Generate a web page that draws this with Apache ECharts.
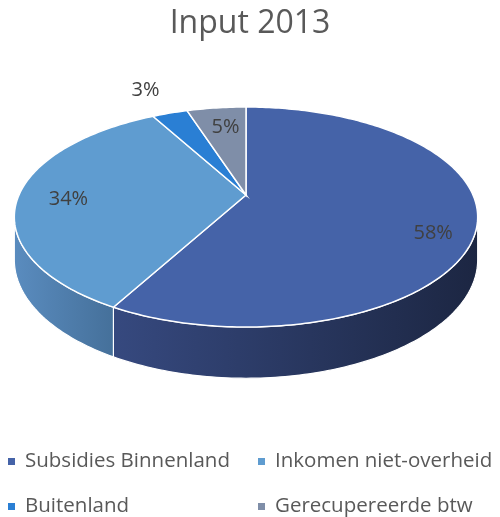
<!DOCTYPE html>
<html><head><meta charset="utf-8">
<script src="https://cdn.jsdelivr.net/npm/echarts@6/dist/echarts.min.js"></script>
<style>html,body{margin:0;padding:0;background:#fff}#c{width:500px;height:517px}</style>
</head><body><div id="c"></div>
<script>
const title = 'Input 2013';
const categories = ['Subsidies Binnenland', 'Inkomen niet-overheid', 'Buitenland', 'Gerecupereerde btw'];
const values = [58, 34, 3, 5];
const topColors = ['#4563a8', '#5f9cd0', '#2a7fd4', '#7f8ea8'];
const sideColors = [['#36497f', '#1c2642'], ['#5a8cbf', '#45709a'], ['#2270bd', '#1a5a99'], ['#707f98', '#5d6a80']];

const total = values.reduce((a, b) => a + b, 0);
const FONT = '"Open Sans", "Liberation Sans", sans-serif';

// pseudo-3D projection settings
const CX = 246, CY = 195, RX = 227, RY = 105.6, P = 0.2, DEPTH = 41;
function proj(theta, r, down) {
  const X = r * Math.sin(theta), Z = r * Math.cos(theta);
  const w = 1 + P * Z;
  return [CX + RX * X / w, CY + (-RY * Z + (down ? DEPTH : 0)) / w];
}
function arcPts(a0, a1, r, down) {
  const n = Math.max(2, Math.ceil(Math.abs(a1 - a0) / (Math.PI / 180)));
  const pts = [];
  for (let k = 0; k <= n; k++) pts.push(proj(a0 + (a1 - a0) * k / n, r, down));
  return pts;
}
const vis0 = Math.acos(-P), vis1 = 2 * Math.PI - Math.acos(-P);

function buildSlice(i) {
  let before = 0;
  for (let j = 0; j < i; j++) before += values[j];
  const a0 = before / total * 2 * Math.PI;
  const a1 = (before + values[i]) / total * 2 * Math.PI;
  const children = [];
  // side wall
  const s0 = Math.max(a0, vis0), s1 = Math.min(a1, vis1);
  if (s1 > s0) {
    const pts = arcPts(s0, s1, 1, false).concat(arcPts(s1, s0, 1, true));
    children.push({
      type: 'polygon', shape: { points: pts },
      style: {
        fill: { type: 'linear', x: 0, y: 0, x2: 1, y2: 0,
          colorStops: [{ offset: 0, color: sideColors[i][0] }, { offset: 1, color: sideColors[i][1] }] },
        stroke: '#ffffff', lineWidth: 1.2
      }
    });
  }
  // top face
  const topPts = [proj(0, 0, false)].concat(arcPts(a0, a1, 1, false));
  children.push({
    type: 'polygon', shape: { points: topPts },
    style: { fill: topColors[i], stroke: '#ffffff', lineWidth: 1.5 }
  });
  // label
  const pct = Math.round(values[i] / total * 100);
  const inside = pct >= 4;
  const mid = (a0 + a1) / 2;
  const lp = proj(mid, inside ? 0.8 : 1.35, false);
  const dy = inside ? Math.max(0, -Math.cos(mid)) * 50 : 0;
  children.push({
    type: 'text', x: lp[0] + (inside ? 4 : -3), y: lp[1] + dy + (inside ? 4 : 0), z2: 10,
    style: { text: pct + '%', fill: '#404040', font: '20px ' + FONT, align: 'center', verticalAlign: 'middle' }
  });
  return { type: 'group', children };
}

const legendText = { fontFamily: FONT, fontSize: 20.5, color: '#595959', lineHeight: 20, padding: [0, 0, 0, 5] };
const chart = echarts.init(document.getElementById('c'), null, { renderer: 'canvas' });
chart.setOption({
  animation: false,
  title: { text: title, left: 'center', top: 3,
    textStyle: { fontFamily: FONT, fontSize: 32, fontWeight: 'normal', color: '#595959' } },
  legend: [
    { data: [categories[0], categories[2]], orient: 'vertical', left: 8, top: 451, height: 66,
      icon: 'rect', itemWidth: 7, itemHeight: 7, itemGap: 24, selectedMode: false, padding: 0,
      textStyle: legendText },
    { data: [categories[1], categories[3]], orient: 'vertical', left: 258, top: 451, height: 66,
      icon: 'rect', itemWidth: 7, itemHeight: 7, itemGap: 24, selectedMode: false, padding: 0,
      textStyle: legendText }
  ],
  series: categories.map((name, i) => ({
    type: 'custom', name, coordinateSystem: 'none', silent: true,
    data: [values[i]], itemStyle: { color: topColors[i] },
    renderItem: () => buildSlice(i)
  }))
});
</script></body></html>
